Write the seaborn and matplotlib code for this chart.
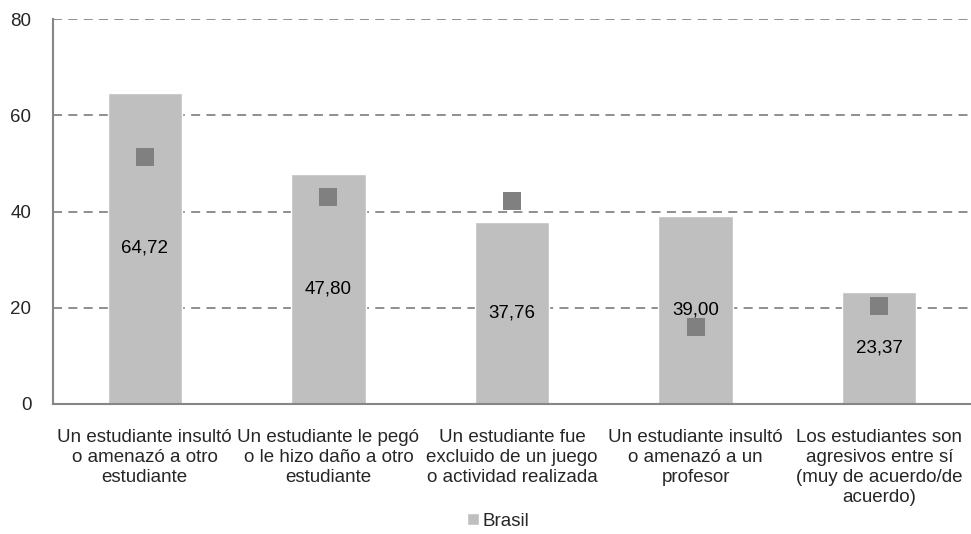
import numpy as np
import pandas as pd
import matplotlib
matplotlib.use("Agg")
import matplotlib.pyplot as plt
import seaborn as sns

categories = [
    "Un estudiante insultó\no amenazó a otro\nestudiante",
    "Un estudiante le pegó\no le hizo daño a otro\nestudiante",
    "Un estudiante fue\nexcluido de un juego\no actividad realizada",
    "Un estudiante insultó\no amenazó a un\nprofesor",
    "Los estudiantes son\nagresivos entre sí\n(muy de acuerdo/de\nacuerdo)",
]
brasil = [64.72, 47.80, 37.76, 39.00, 23.37]
markers = [51.3, 43.1, 42.2, 15.9, 20.3]
bar_labels = ["64,72", "47,80", "37,76", "39,00", "23,37"]
yticks = [0, 20, 40, 60, 80]

sns.set_theme(style="white")
plt.rcParams["font.family"] = ["Liberation Sans", "DejaVu Sans"]

FS = 13.5
df = pd.DataFrame({"cat": categories, "Brasil": brasil, "marker": markers})

fig = plt.figure(figsize=(9.71, 5.34), dpi=100)
ax = fig.add_axes([53 / 971, 1 - 404 / 534, 918 / 971, (404 - 19) / 534])

grid_c = "#868686"
for y in yticks[1:]:
    ax.axhline(y, color=grid_c, lw=1.3, ls=(0, (5, 3.5)), zorder=0)

sns.barplot(data=df, x="cat", y="Brasil", color="#BFBFBF", width=0.405,
            saturation=1, ax=ax, zorder=2, label="Brasil")
ax.scatter(np.arange(len(markers)), df["marker"], marker="s", s=185,
           color="#808080", zorder=4, linewidths=0)

for i, (v, t) in enumerate(zip(brasil, bar_labels)):
    ax.text(i, v / 2, t, ha="center", va="center", fontsize=FS, color="black", zorder=5)

ax.set_xlim(-0.5, -0.5 + 918 / 185)
ax.set_ylim(0, 80)
ax.set_yticks(yticks)
ax.set_yticklabels([str(y) for y in yticks], fontsize=FS)
ax.set_xticks(range(len(categories)))
ax.set_xticklabels(categories, fontsize=FS, linespacing=1.22)
ax.set_xticks(np.arange(-0.5, 4.6, 1.0), minor=True)
ax.tick_params(axis="x", which="major", length=0, pad=18)
ax.tick_params(axis="x", which="minor", length=3.6, width=1.3, color=grid_c, direction="out")
ax.tick_params(axis="y", which="major", length=3.6, width=1.3, color=grid_c, direction="out", pad=12)
ax.set_xlabel("")
ax.set_ylabel("")

for s in ["top", "right"]:
    ax.spines[s].set_visible(False)
for s in ["left", "bottom"]:
    ax.spines[s].set_color(grid_c)
    ax.spines[s].set_linewidth(1.5)
    ax.spines[s].set_zorder(6)

leg = ax.legend(loc="center", bbox_to_anchor=(0.485, -0.304),
                frameon=False, fontsize=FS, handlelength=0.6, handleheight=0.6,
                handletextpad=0.2, borderaxespad=0, borderpad=0)

fig.savefig("out.png", dpi=100, facecolor="white")
